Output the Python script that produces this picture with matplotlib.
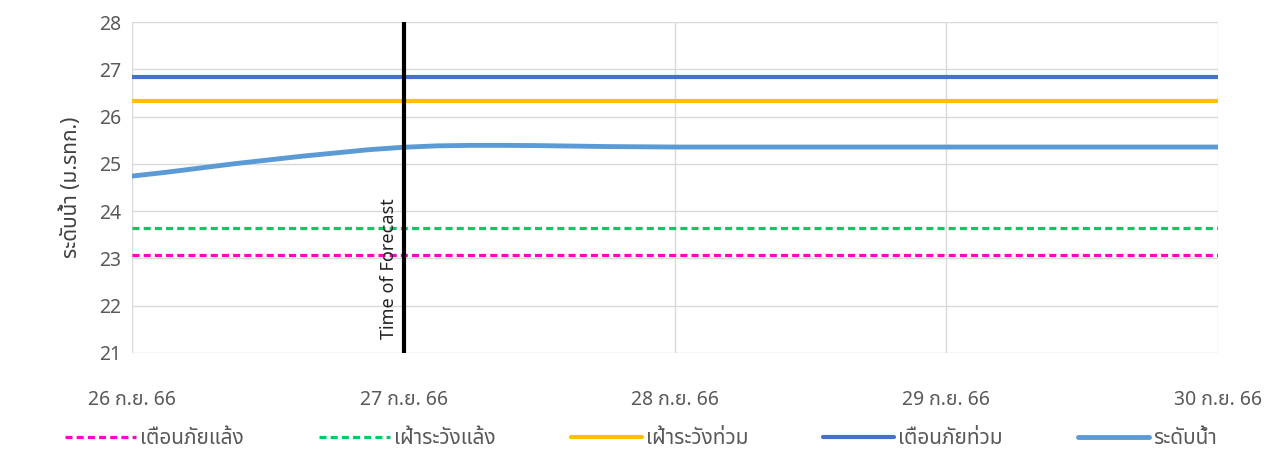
import matplotlib.pyplot as plt
import numpy as np
from matplotlib import font_manager

# Pick a family with Thai glyphs if the box has one
thai_candidates = ['Noto Sans Thai', 'Noto Sans Thai UI', 'Noto Serif Thai', 'Leelawadee UI',
                   'Tahoma', 'Sarabun', 'Loma', 'Garuda', 'Kinnari', 'Norasi', 'Waree',
                   'Tlwg Typist', 'Umpush', 'Laksaman']
have = {f.name for f in font_manager.fontManager.ttflist}
fams = [f for f in thai_candidates if f in have] + ['DejaVu Sans']
plt.rcParams['font.family'] = fams

# Data
day_labels = ['26 ก.ย. 66', '27 ก.ย. 66', '28 ก.ย. 66', '29 ก.ย. 66', '30 ก.ย. 66']
series_names = ['เตือนภัยแล้ง', 'เฝ้าระวังแล้ง', 'เฝ้าระวังท่วม', 'เตือนภัยท่วม', 'ระดับน้ำ']
drought_warn = 23.08
drought_watch = 23.65
flood_watch = 26.33
flood_warn = 26.84
level_t = [0, 0.125, 0.25, 0.375, 0.5, 0.625, 0.75, 0.875, 1.0, 1.125, 1.25, 1.375, 1.5,
           1.625, 1.75, 1.875, 2.0, 2.5, 3.0, 3.5, 4.0]
level_v = [24.74, 24.82, 24.91, 25.00, 25.08, 25.16, 25.23, 25.30, 25.35, 25.38, 25.39, 25.39, 25.385,
           25.375, 25.365, 25.36, 25.355, 25.355, 25.355, 25.355, 25.355]
forecast_day = 1

fig = plt.figure(figsize=(12.82, 4.5), dpi=100)
ax = fig.add_axes([0.103, 0.216, 0.847, 0.735])

x_all = np.arange(len(day_labels))
ax.plot(x_all, [drought_warn] * len(x_all), color='#FF00CC', lw=2.3, ls=(0, (2.2, 1.3)), label=series_names[0])
ax.plot(x_all, [drought_watch] * len(x_all), color='#00CC66', lw=2.3, ls=(0, (2.2, 1.3)), label=series_names[1])
ax.plot(x_all, [flood_watch] * len(x_all), color='#FFC000', lw=3.0, label=series_names[2], solid_capstyle='round')
ax.plot(x_all, [flood_warn] * len(x_all), color='#4472C4', lw=3.0, label=series_names[3], solid_capstyle='round')
ax.plot(level_t, level_v, color='#5B9BD5', lw=3.5, label=series_names[4], solid_capstyle='round')

ax.axvline(forecast_day, color='black', lw=3)
ax.text(forecast_day - 0.02, 21.3, 'Time of Forecast', rotation=90, ha='right', va='bottom',
        fontsize=13, color='#222222', family=['Noto Sans', 'DejaVu Sans'])

ax.set_xlim(0, 4)
ax.set_ylim(21, 28)
ax.set_xticks(x_all)
ax.set_xticklabels(day_labels)
ax.set_yticks(np.arange(21, 29))
ax.grid(True, color='#D9D9D9', lw=1)
ax.set_axisbelow(True)
for s in ax.spines.values():
    s.set_visible(False)
ax.tick_params(length=0, labelsize=14, labelcolor='#595959')
ax.tick_params(axis='x', pad=27)
ax.tick_params(axis='y', pad=8)
ax.set_ylabel('ระดับน้ำ (ม.รทก.)', fontsize=15, fontweight='bold', color='#404040', labelpad=12)

leg = fig.legend(loc='lower center', bbox_to_anchor=(0.5, -0.04), ncol=5, frameon=False,
                 fontsize=15, handlelength=3.4, handletextpad=0.2, columnspacing=3.6,
                 labelcolor='#595959')

fig.savefig('out.png', dpi=100)
